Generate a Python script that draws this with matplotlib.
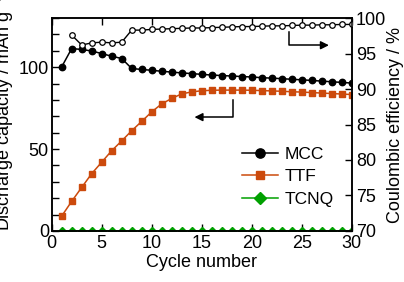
import matplotlib
matplotlib.use("Agg")
import matplotlib.pyplot as plt
from matplotlib.ticker import MultipleLocator

plt.rcParams['font.family'] = ['Liberation Sans', 'DejaVu Sans']
plt.rcParams['font.size'] = 13

cycles = list(range(1, 31))
mcc = [100.2, 111.4, 110.8, 109.9, 108.3, 106.7, 105.3, 99.2, 98.6, 98.1,
       97.5, 97.0, 96.5, 96.1, 95.6, 95.2, 94.9, 94.6, 94.3, 94.0,
       93.6, 93.3, 93.0, 92.6, 92.3, 91.9, 91.5, 91.1, 90.7, 90.3]
ttf = [9.1, 18.1, 26.6, 35.0, 42.0, 49.0, 55.0, 61.2, 66.9, 72.7,
       77.6, 80.9, 83.7, 84.9, 85.6, 85.9, 86.0, 86.0, 86.0, 85.9,
       85.7, 85.5, 85.3, 85.0, 84.8, 84.5, 84.2, 83.9, 83.6, 83.3]
tcnq = [0.0] * 30
ce_cycles = list(range(2, 31))
ce = [97.6, 96.2, 96.5, 96.6, 96.5, 96.6, 98.3, 98.3, 98.4, 98.45,
      98.5, 98.55, 98.6, 98.6, 98.65, 98.7, 98.75, 98.8, 98.8, 98.85,
      98.9, 98.9, 98.95, 99.0, 99.0, 99.05, 99.05, 99.1, 99.1]

orange = '#CC4A0C'
green = '#00A000'

fig = plt.figure(figsize=(4.04, 2.82), dpi=100)
ax = fig.add_axes([0.128, 0.181, 0.7425, 0.755])
ax2 = ax.twinx()

ax.plot(cycles, mcc, '-o', color='black', ms=4.6, lw=1.1, label='MCC')
ax.plot(cycles, ttf, '-s', color=orange, ms=4.4, lw=1.1, label='TTF')
ax.plot(cycles, tcnq, '-D', color=green, ms=4.0, lw=1.1, label='TCNQ')
ax2.plot(ce_cycles, ce, '-o', color='black', mfc='white', ms=4.0, lw=1.0, mew=0.9)

ax.set_xlim(0, 30)
ax.set_ylim(0, 130)
ax2.set_ylim(70, 100)
ax.xaxis.set_major_locator(MultipleLocator(5))
ax.yaxis.set_major_locator(MultipleLocator(50))
ax.yaxis.set_minor_locator(MultipleLocator(10))
ax2.yaxis.set_major_locator(MultipleLocator(5))

ax.tick_params(axis='x', which='both', direction='in', top=True, length=5, width=1.0, pad=3)
ax.tick_params(axis='y', which='both', direction='in', length=5, width=1.0, pad=2)
ax2.tick_params(axis='y', direction='in', length=5, width=1.0, pad=3)
for a in (ax, ax2):
    for s in a.spines.values():
        s.set_linewidth(1.1)

ax.set_xlabel('Cycle number', labelpad=1)
ax.set_ylabel('Discharge capacity / mAh g$^{-1}$')
ax.yaxis.set_label_coords(-0.118, 0.56)
ax2.set_ylabel('Coulombic efficiency / %', labelpad=1)

# arrows pointing to the axes
ax.plot([18.1, 18.1, 15.0], [79.9, 69.5, 69.5], color='black', lw=1.1)
ax.annotate('', xy=(14.0, 69.5), xytext=(15.2, 69.5),
            arrowprops=dict(arrowstyle='-|>', color='black', lw=1.1, mutation_scale=12))
ax.plot([23.7, 23.7, 27.0], [121.5, 113.4, 113.4], color='black', lw=1.1)
ax.annotate('', xy=(28.0, 113.4), xytext=(26.8, 113.4),
            arrowprops=dict(arrowstyle='-|>', color='black', lw=1.1, mutation_scale=12))

ax.legend(loc='center left', bbox_to_anchor=(0.633, 0.254), frameon=False,
          fontsize=12.5, handlelength=2.1, handletextpad=0.4, labelspacing=0.42,
          markerscale=1.45, borderaxespad=0, borderpad=0)

fig.savefig('out.png', dpi=100)
